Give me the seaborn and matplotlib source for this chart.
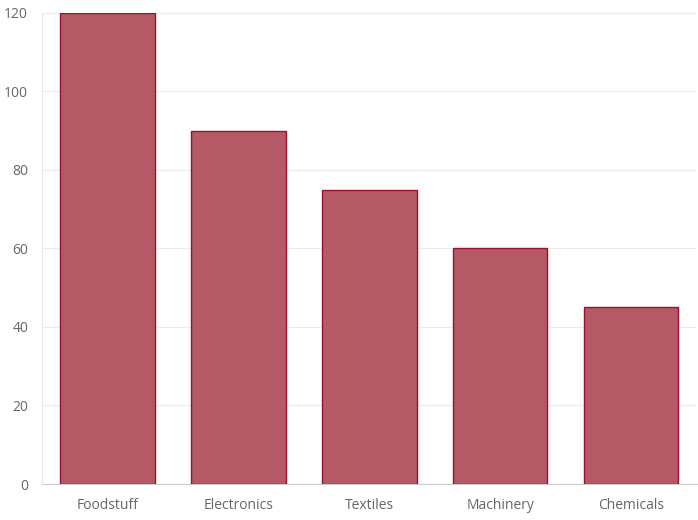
import pandas as pd
import matplotlib
matplotlib.use("Agg")
import matplotlib.pyplot as plt
import seaborn as sns

# chart data
categories = ["Foodstuff", "Electronics", "Textiles", "Machinery", "Chemicals"]
values = [120, 90, 75, 60, 45]
y_ticks = [0, 20, 40, 60, 80, 100, 120]

df = pd.DataFrame({"category": categories, "value": values})

sns.set_style("white")
plt.rcParams["font.family"] = ["Open Sans", "DejaVu Sans"]

fig = plt.figure(figsize=(6.98, 5.2), dpi=100)
ax = fig.add_axes([0.0602, 0.0692, 0.938, 0.906])

sns.barplot(data=df, x="category", y="value", color="#b35a66", saturation=1,
            width=0.72, edgecolor="#9e1030", linewidth=1, ax=ax, zorder=3)

ax.set_xlim(-0.5, 4.5)
ax.set_ylim(0, 120)
ax.set_yticks(y_ticks)
ax.grid(axis="y", color="#ececec", linewidth=0.8, zorder=0)
ax.set_xlabel("")
ax.set_ylabel("")

for side in ["top", "right"]:
    ax.spines[side].set_visible(False)
ax.spines["left"].set_color("#e6e6e6")
ax.spines["bottom"].set_color("#cccccc")

ax.tick_params(axis="both", length=0, labelsize=10, labelcolor="#666666")
ax.tick_params(axis="x", pad=10)
ax.tick_params(axis="y", pad=10)

fig.savefig("out.png", dpi=100)
